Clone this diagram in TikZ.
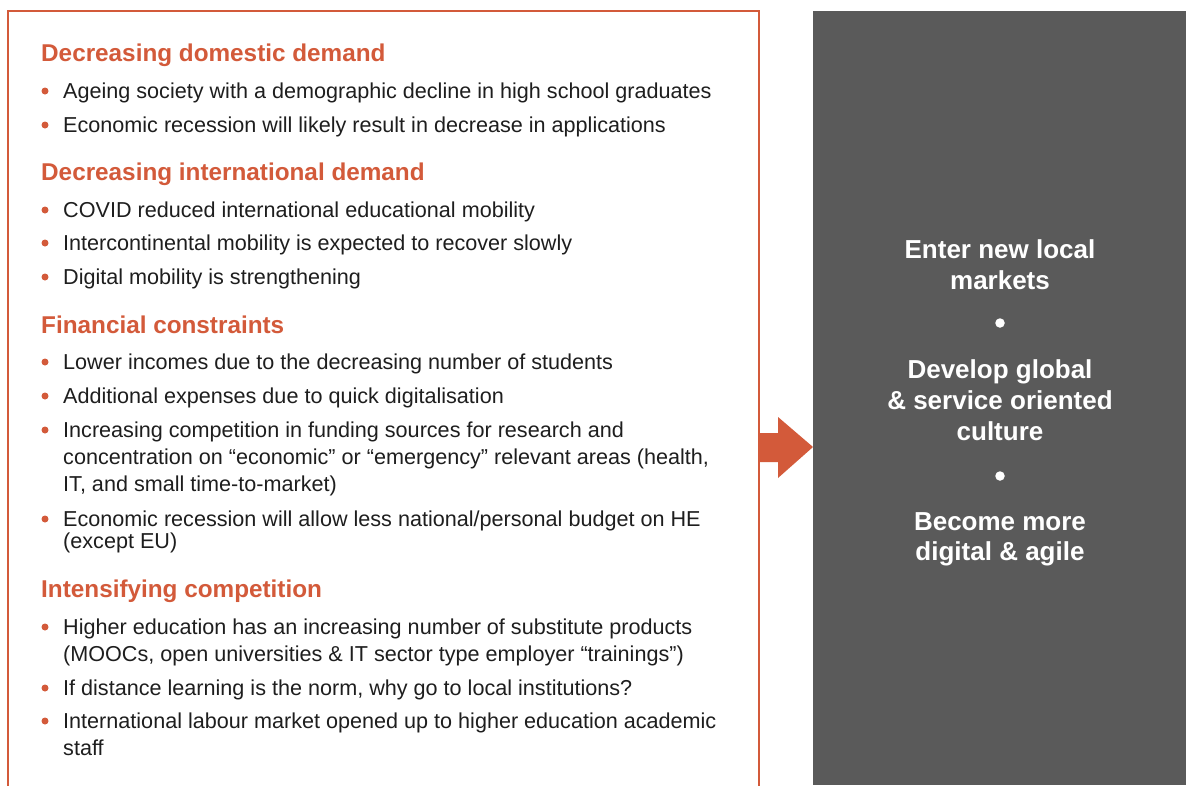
\documentclass[tikz,border=0pt]{standalone}
\usepackage{fontspec}
\setmainfont{Liberation Sans}
\definecolor{org}{RGB}{211,90,58}
\definecolor{gbox}{RGB}{90,90,90}
\definecolor{txt}{RGB}{30,30,30}
\begin{document}
\begin{tikzpicture}[x=1pt,y=-1pt,
  head/.style={anchor=base west,inner sep=0pt,text=org,font=\fontsize{24.3}{28}\selectfont\bfseries},
  item/.style={anchor=base west,inner sep=0pt,text=txt,font=\fontsize{21.6}{25}\selectfont},
  rt/.style={anchor=base,inner sep=0pt,text=white,font=\fontsize{26}{30}\selectfont\bfseries},
  dot/.style={circle,fill=org,inner sep=0pt,minimum size=7pt},
  wdot/.style={circle,fill=white,inner sep=0pt,minimum size=9.5pt}]
\useasboundingbox (0,0) rectangle (1186,785);
\fill[white] (0,0) rectangle (1186,785);
\begin{scope}
\clip (0,0) rectangle (1186,785);
\draw[org,line width=1.5pt] (8,11) rectangle (759,800);
\end{scope}
\fill[gbox] (813,11) rectangle (1186,785);
% arrow
\fill[org] (759,433) -- (778,433) -- (778,417) -- (813,447) -- (778,478) -- (778,462) -- (759,462) -- cycle;
% left texts
\node[head] (h1) at (41,61) {Decreasing domestic demand};
\node[item] (a1) at (63,98) {Ageing society with a demographic decline in high school graduates};
\node[item] (a2) at (63,132) {Economic recession will likely result in decrease in applications};
\node[head] (h2) at (41,180) {Decreasing international demand};
\node[item] (b1) at (63,217) {COVID reduced international educational mobility};
\node[item] (b2) at (63,250) {Intercontinental mobility is expected to recover slowly};
\node[item] (b3) at (63,284) {Digital mobility is strengthening};
\node[head] (h3) at (41,333) {Financial constraints};
\node[item] (c1) at (63,369) {Lower incomes due to the decreasing number of students};
\node[item] (c2) at (63,403) {Additional expenses due to quick digitalisation};
\node[item] (c3a) at (63,437) {Increasing competition in funding sources for research and};
\node[item] (c3b) at (63,464) {concentration on “economic” or “emergency” relevant areas (health,};
\node[item] (c3c) at (63,491) {IT, and small time-to-market)};
\node[item] (c4a) at (63,526) {Economic recession will allow less national/personal budget on HE};
\node[item] (c4b) at (63,548) {(except EU)};
\node[head] (h4) at (41,597) {Intensifying competition};
\node[item] (d1a) at (63,634) {Higher education has an increasing number of substitute products};
\node[item] (d1b) at (63,661) {(MOOCs, open universities \& IT sector type employer “trainings”)};
\node[item] (d2) at (63,695) {If distance learning is the norm, why go to local institutions?};
\node[item] (d3a) at (63,728) {International labour market opened up to higher education academic};
\node[item] (d3b) at (63,755) {staff};
\foreach \y in {91,125,210,243,277,362,396,430,519,627,688,721}
  \node[dot] at (45,\y) {};
% right texts
\node[rt] (r1a) at (1000,258) {Enter new local};
\node[rt] (r1b) at (1000,289) {markets};
\node[wdot] (rd1) at (1000,323) {};
\node[rt] (r2a) at (1000,378) {Develop global};
\node[rt] (r2b) at (1000,409) {\& service oriented};
\node[rt] (r2c) at (1000,440) {culture};
\node[wdot] (rd2) at (1000,476) {};
\node[rt] (r3a) at (1000,530) {Become more};
\node[rt] (r3b) at (1000,560) {digital \& agile};
\end{tikzpicture}
\end{document}
